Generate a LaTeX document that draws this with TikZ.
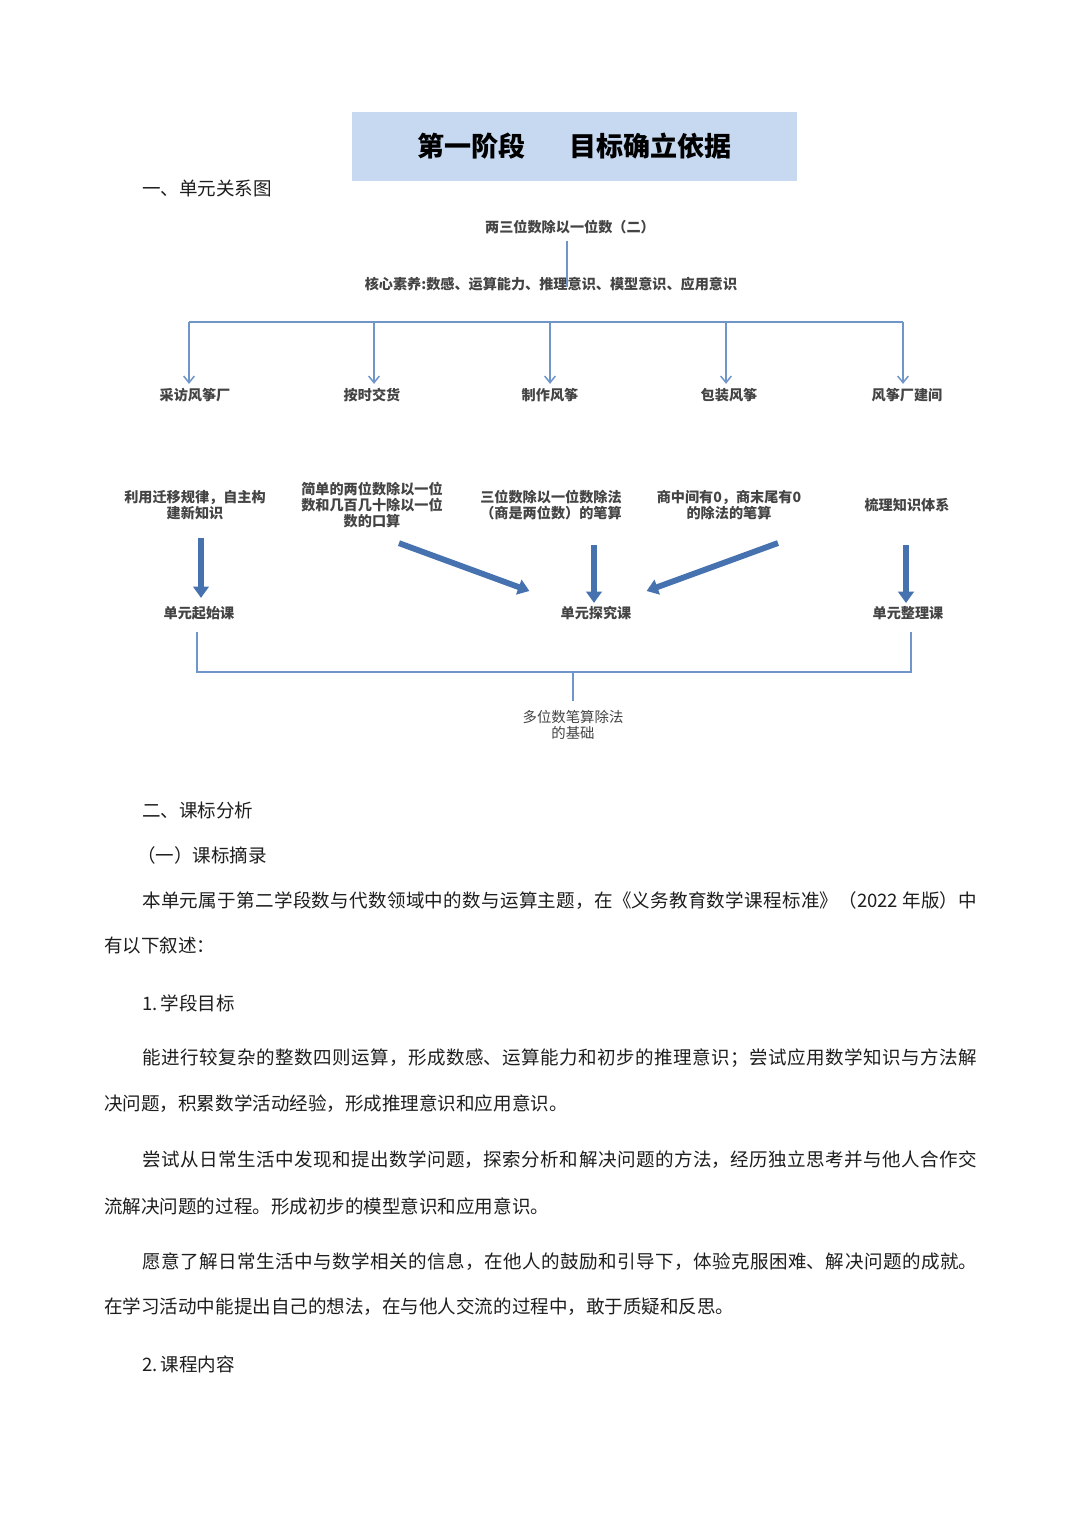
\documentclass[tikz,border=0pt]{standalone}
\usepackage{fontspec}
\newfontfamily\cjk{Noto Sans CJK SC}
\usetikzlibrary{arrows.meta,calc}
\definecolor{thinblue}{HTML}{6F95C9}
\definecolor{bigblue}{HTML}{4673B0}
\definecolor{titlebg}{HTML}{C6D9F1}
\definecolor{dtext}{HTML}{444444}
\definecolor{btext}{HTML}{1E1E1E}
\newcommand\jline[1]{\XeTeXlinebreaklocale "zh"\XeTeXlinebreakskip=0pt plus 4pt\relax\parfillskip=0pt\relax #1\par}
\tikzset{
  body/.style={anchor=west, inner sep=0pt, font=\cjk\fontsize{13.9pt}{16pt}\selectfont, text=btext},
  jbody/.style={body, text width=626.25pt, align=justify},
  dlab/.style={inner sep=0pt, font=\cjk\bfseries\fontsize{10.6pt}{12pt}\selectfont, text=dtext, align=center},
  dlabr/.style={dlab, font=\cjk\fontsize{10.8pt}{12pt}\selectfont, text=dtext},
  conn/.style={draw=thinblue, line width=1.1pt},
  connarrow/.style={conn, -{Straight Barb[length=5pt,width=8pt]}},
  bigarrow/.style={draw=bigblue, line width=4.4pt, -{Triangle[length=8.5pt,width=11.5pt]}},
  titlebox/.style={fill=titlebg, minimum width=333.75pt, minimum height=51.75pt, inner sep=0pt,
    font=\cjk\bfseries\fontsize{20.3pt}{24pt}\selectfont, text=black}
}
\begin{document}
\begin{tikzpicture}[x=0.75pt,y=-0.75pt]
\useasboundingbox[fill=white] (0,0) rectangle (1080,1527);

% title
\node[titlebox] (title) at (574.5,146.5) {第一阶段\hspace{33pt}目标确立依据};
\node[body] (h1) at (142,188) {一、单元关系图};

% diagram top
\node[dlab] (t) at (570,227) {两三位数除以一位数（二）};
\node[dlab] (core) at (551,284) {核心素养:数感、运算能力、推理意识、模型意识、应用意识};
\draw[conn] ($(t.south)+(-3,7)$) -- ++(0,46);

% bus with drops
\coordinate (d1) at (189,322);
\coordinate (d2) at (374,322);
\coordinate (d3) at (550,322);
\coordinate (d4) at (726,322);
\coordinate (d5) at (903,322);
\draw[conn] (d1) -- (d5);

\node[dlab] (a1) at (195,395) {采访风筝厂};
\node[dlab] (a2) at (372,395) {按时交货};
\node[dlab] (a3) at (550,395) {制作风筝};
\node[dlab] (a4) at (729,395) {包装风筝};
\node[dlab] (a5) at (907,395) {风筝厂建间};
\foreach \i in {1,...,5}
  \draw[connarrow] (d\i) -- ($(d\i |- a\i.north)+(0,-4)$);

% row 2
\node[dlab] (r1) at (195,505) {利用迁移规律，自主构\\建新知识};
\node[dlab] (r2) at (372,505) {简单的两位数除以一位\\数和几百几十除以一位\\数的口算};
\node[dlab] (r3) at (551,505) {三位数除以一位数除法\\（商是两位数）的笔算};
\node[dlab] (r4) at (729,505) {商中间有0，商末尾有0\\的除法的笔算};
\node[dlab] (r5) at (907,505) {梳理知识体系};

% row 3
\node[dlab] (s1) at (199,613) {单元起始课};
\node[dlab] (s2) at (596,613) {单元探究课};
\node[dlab] (s3) at (908,613) {单元整理课};

% big arrows
\draw[bigarrow] ($(r1.south)+(6,18)$) -- ($(s1.north)+(2,-8)$);
\draw[bigarrow] ($(r3.south)+(43,25)$) -- ($(s2.north)+(-2,-3)$);
\draw[bigarrow] ($(r5.south)+(-1,33)$) -- ($(s3.north)+(-2,-3)$);
\draw[bigarrow] ($(r2.south)+(27,15)$) -- ($(s2.west)+(-31,-22)$);
\draw[bigarrow] ($(r4.south)+(49,23)$) -- ($(s2.east)+(15,-22)$);

% bottom bracket
\node[dlabr] (base) at (573,725) {多位数笔算除法\\的基础};
\coordinate (bj) at (573,672);
\draw[conn] ($(s1.south)+(-2,12)$) |- (bj) -| ($(s3.south)+(3,12)$);
\draw[conn] (bj) -- ($(base.north)+(0,-9)$);

% body text
\node[body] (h2) at (142,810) {二、课标分析};
\node[body] (h3) at (137,855) {（一）课标摘录};
\node[jbody] (p1) at (142,901) {\jline{本单元属于第二学段数与代数领域中的数与运算主题，在《义务教育数学课程标准》（2022 年版）中}};
\node[body] (p1b) at (104,946) {有以下叙述：};
\node[body] (h4) at (142,1003) {1.\,学段目标};
\node[jbody] (p2) at (142,1058) {\jline{能进行较复杂的整数四则运算，形成数感、运算能力和初步的推理意识；尝试应用数学知识与方法解}};
\node[body] (p2b) at (104,1104) {决问题，积累数学活动经验，形成推理意识和应用意识。};
\node[jbody] (p3) at (142,1160) {\jline{尝试从日常生活中发现和提出数学问题，探索分析和解决问题的方法，经历独立思考并与他人合作交}};
\node[body] (p3b) at (104,1206) {流解决问题的过程。形成初步的模型意识和应用意识。};
\node[jbody] (p4) at (142,1262) {\jline{愿意了解日常生活中与数学相关的信息，在他人的鼓励和引导下，体验克服困难、解决问题的成就。}};
\node[body] (p4b) at (104,1307) {在学习活动中能提出自己的想法，在与他人交流的过程中，敢于质疑和反思。};
\node[body] (h5) at (142,1364) {2.\,课程内容};
\end{tikzpicture}
\end{document}
